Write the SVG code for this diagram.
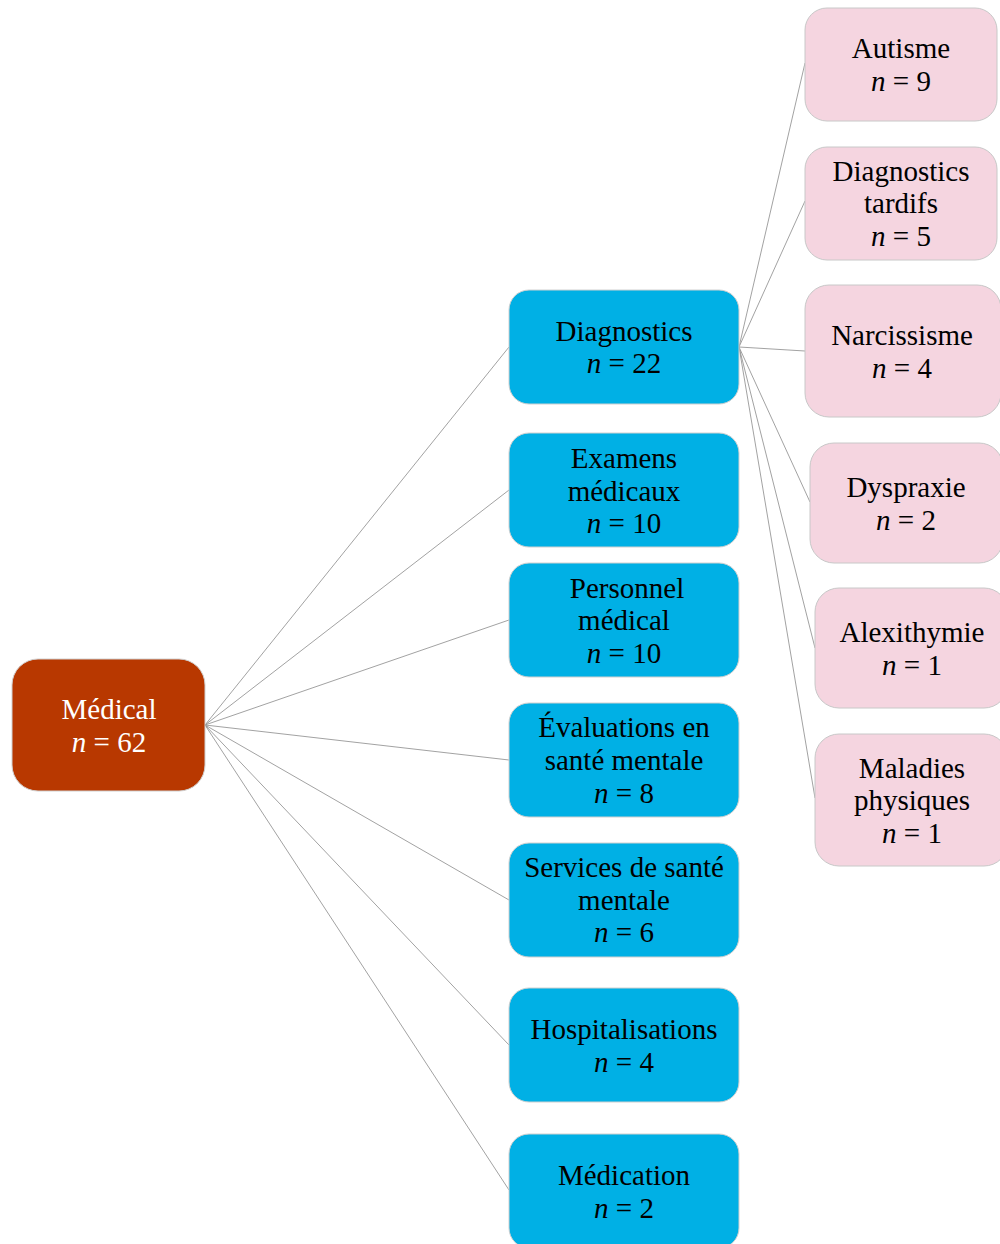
<svg xmlns="http://www.w3.org/2000/svg" width="1000" height="1244" viewBox="0 0 1000 1244">
<style>
text{font-family:"Liberation Serif","Times New Roman",serif;font-size:29px;text-anchor:middle;fill:#000}
.i{font-style:italic}
.root rect{fill:#B83800;stroke:#d0d0d0;stroke-width:1}
.root text{fill:#fff}
.mid rect{fill:#00B0E5;stroke:#d0d0d0;stroke-width:1}
.leaf rect{fill:#F5D5E0;stroke:#c8c8c8;stroke-width:1}
.conn line{stroke:#8a8a8a;stroke-width:0.8}
</style>
<rect width="1000" height="1244" fill="#fff"/>
<g id="connectors" class="conn">
<line x1="205" y1="725" x2="509" y2="347"/>
<line x1="205" y1="725" x2="509" y2="490"/>
<line x1="205" y1="725" x2="509" y2="620"/>
<line x1="205" y1="725" x2="509" y2="760"/>
<line x1="205" y1="725" x2="509" y2="900"/>
<line x1="205" y1="725" x2="509" y2="1045"/>
<line x1="205" y1="725" x2="509" y2="1190"/>
<line x1="739" y1="347" x2="805" y2="63"/>
<line x1="739" y1="347" x2="805" y2="201"/>
<line x1="739" y1="347" x2="805" y2="351"/>
<line x1="739" y1="347" x2="810" y2="502"/>
<line x1="739" y1="347" x2="815" y2="648"/>
<line x1="739" y1="347" x2="815" y2="798"/>
</g>
<g id="medical" class="root">
<rect x="12" y="659" width="193" height="132" rx="26"/>
<text x="109" y="719">Médical</text>
<text x="109" y="752"><tspan class="i">n</tspan> = 62</text>
</g>
<g id="diagnostics" class="mid">
<rect x="509" y="290" width="230" height="114" rx="20"/>
<text x="624" y="341">Diagnostics</text>
<text x="624" y="373"><tspan class="i">n</tspan> = 22</text>
</g>
<g id="examens" class="mid">
<rect x="509" y="433" width="230" height="114" rx="20"/>
<text x="624" y="468">Examens</text>
<text x="624" y="501">médicaux</text>
<text x="624" y="533"><tspan class="i">n</tspan> = 10</text>
</g>
<g id="personnel" class="mid">
<rect x="509" y="563" width="230" height="114" rx="20"/>
<text x="627" y="598">Personnel</text>
<text x="624" y="630">médical</text>
<text x="624" y="663"><tspan class="i">n</tspan> = 10</text>
</g>
<g id="evaluations" class="mid">
<rect x="509" y="703" width="230" height="114" rx="20"/>
<text x="624" y="737">Évaluations en</text>
<text x="624" y="770">santé mentale</text>
<text x="624" y="803"><tspan class="i">n</tspan> = 8</text>
</g>
<g id="services" class="mid">
<rect x="509" y="843" width="230" height="114" rx="20"/>
<text x="624" y="877">Services de santé</text>
<text x="624" y="910">mentale</text>
<text x="624" y="942"><tspan class="i">n</tspan> = 6</text>
</g>
<g id="hospitalisations" class="mid">
<rect x="509" y="988" width="230" height="114" rx="20"/>
<text x="624" y="1039">Hospitalisations</text>
<text x="624" y="1072"><tspan class="i">n</tspan> = 4</text>
</g>
<g id="medication" class="mid">
<rect x="509" y="1134" width="230" height="114" rx="20"/>
<text x="624" y="1185">Médication</text>
<text x="624" y="1218"><tspan class="i">n</tspan> = 2</text>
</g>
<g id="autisme" class="leaf">
<rect x="805" y="8" width="192" height="113" rx="22"/>
<text x="901" y="58">Autisme</text>
<text x="901" y="91"><tspan class="i">n</tspan> = 9</text>
</g>
<g id="diagnostics-tardifs" class="leaf">
<rect x="805" y="147" width="192" height="113" rx="22"/>
<text x="901" y="181">Diagnostics</text>
<text x="901" y="213">tardifs</text>
<text x="901" y="246"><tspan class="i">n</tspan> = 5</text>
</g>
<g id="narcissisme" class="leaf">
<rect x="805" y="285" width="196" height="132" rx="24"/>
<text x="902" y="345">Narcissisme</text>
<text x="902" y="378"><tspan class="i">n</tspan> = 4</text>
</g>
<g id="dyspraxie" class="leaf">
<rect x="810" y="443" width="193" height="120" rx="24"/>
<text x="906" y="497">Dyspraxie</text>
<text x="906" y="530"><tspan class="i">n</tspan> = 2</text>
</g>
<g id="alexithymie" class="leaf">
<rect x="815" y="588" width="193" height="120" rx="24"/>
<text x="912" y="642">Alexithymie</text>
<text x="912" y="675"><tspan class="i">n</tspan> = 1</text>
</g>
<g id="maladies" class="leaf">
<rect x="815" y="734" width="193" height="132" rx="24"/>
<text x="912" y="778">Maladies</text>
<text x="912" y="810">physiques</text>
<text x="912" y="843"><tspan class="i">n</tspan> = 1</text>
</g>
</svg>
